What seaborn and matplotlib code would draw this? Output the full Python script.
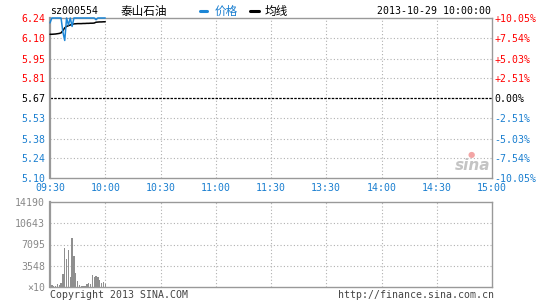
import matplotlib
matplotlib.use('Agg')
import matplotlib.pyplot as plt
import seaborn as sns
import pandas as pd
from matplotlib.lines import Line2D

# ---------------- data ----------------
minutes = list(range(31))  # 09:30 .. 10:00
price = [6.205, 6.24, 6.24, 6.24, 6.24, 6.24, 6.24, 6.14, 6.08, 6.24,
         6.19, 6.24, 6.18, 6.24, 6.24, 6.24, 6.24, 6.24, 6.24, 6.24,
         6.24, 6.24, 6.24, 6.24, 6.24, 6.228, 6.24, 6.24, 6.24, 6.24, 6.24]
avg_price = [6.124, 6.124, 6.125, 6.126, 6.128, 6.130, 6.134, 6.150, 6.170, 6.180,
             6.185, 6.190, 6.195, 6.198, 6.199, 6.200, 6.200, 6.200, 6.201, 6.201,
             6.202, 6.202, 6.203, 6.203, 6.204, 6.210, 6.211, 6.212, 6.212, 6.213, 6.213]
vol_minutes = list(range(1, 31))
volume = [400, 170, 170, 570, 400, 680, 2100, 6530, 4660, 6130,
          1590, 8240, 5230, 2390, 1020, 400, 170, 170, 170, 570,
          680, 500, 1990, 1700, 1870, 1700, 1250, 740, 850, 450]

time_ticks = [0, 30, 60, 90, 120, 150, 180, 210, 240]
time_labels = ['09:30', '10:00', '10:30', '11:00', '11:30', '13:30', '14:00', '14:30', '15:00']
price_ticks = [6.24, 6.10, 5.95, 5.81, 5.67, 5.53, 5.38, 5.24, 5.10]
price_labels = ['6.24', '6.10', '5.95', '5.81', '5.67', '5.53', '5.38', '5.24', '5.10']
pct_labels = ['+10.05%', '+7.54%', '+5.03%', '+2.51%', '0.00%', '-2.51%', '-5.03%', '-7.54%', '-10.05%']
vol_ticks = [0, 3548, 7095, 10643, 14190]
vol_labels = ['×10', '3548', '7095', '10643', '14190']
pre_close = 5.67

# ---------------- style ----------------
sns.set_theme(style='white')
plt.rcParams['font.family'] = ['DejaVu Sans Mono', 'Noto Sans CJK SC']

RED = '#ff0000'
BLUE = '#1a7fd0'
LINEBLUE = '#1c86d6'
GRAY = '#999999'
GRID = '#b0b0b0'
FS = 7.1

W, H = 545, 300
fig = plt.figure(figsize=(W / 100, H / 100), dpi=100)
fig.patch.set_facecolor('white')

def fx(px):
    return px / W

def fy(py):
    return 1 - py / H

L, R = 50, 492
ax1 = fig.add_axes([fx(L), fy(178), fx(R - L), (178 - 18) / H])
ax2 = fig.add_axes([fx(L), fy(287), fx(R - L), (287 - 202) / H])

df = pd.DataFrame({'minute': minutes, 'price': price, 'avg': avg_price})
dv = pd.DataFrame({'minute': vol_minutes, 'volume': volume})

# ---------------- price panel ----------------
ax1.set_facecolor('white')
for t in time_ticks[1:-1]:
    ax1.axvline(t, color=GRID, lw=0.8, ls=(0, (1, 2)), zorder=0)
for p in price_ticks[1:-1]:
    if abs(p - pre_close) > 1e-6:
        ax1.axhline(p, color=GRID, lw=0.8, ls=(0, (1, 2)), zorder=0)
ax1.axhline(pre_close, color='black', lw=0.9, ls=(0, (2, 1)), zorder=1)

sns.lineplot(data=df, x='minute', y='avg', color='black', lw=1.1, ax=ax1, zorder=3)
sns.lineplot(data=df, x='minute', y='price', color=LINEBLUE, lw=1.1, ax=ax1, zorder=4)
for ln in ax1.get_lines()[-2:]:
    ln.set_clip_on(False)

ax1.set_xlim(0, 240)
ax1.set_ylim(5.10, 6.24)
ax1.set_xticks(time_ticks)
ax1.set_xticklabels(time_labels)
ax1.set_yticks(price_ticks)
ax1.set_yticklabels(price_labels)
ax1.set_xlabel('')
ax1.set_ylabel('')
ax1.tick_params(axis='both', length=0, labelsize=FS)
ax1.tick_params(axis='y', pad=3.6)
ax1.tick_params(axis='x', pad=3.5, labelcolor=BLUE)
for lab, p in zip(ax1.get_yticklabels(), price_ticks):
    lab.set_color(RED if p > pre_close + 1e-6 else ('black' if abs(p - pre_close) < 1e-6 else BLUE))
for s in ax1.spines.values():
    s.set_color(GRAY)
    s.set_linewidth(1.0)
    s.set_zorder(2)
ax1.spines['left'].set_linewidth(1.6)

axr = ax1.twinx()
axr.set_ylim(5.10, 6.24)
axr.set_yticks(price_ticks)
axr.set_yticklabels(pct_labels)
axr.tick_params(axis='y', length=0, labelsize=FS, pad=1.5)
for lab, p in zip(axr.get_yticklabels(), price_ticks):
    lab.set_color(RED if p > pre_close + 1e-6 else ('black' if abs(p - pre_close) < 1e-6 else BLUE))
for s in axr.spines.values():
    s.set_visible(False)

# ---------------- volume panel ----------------
for t in time_ticks[1:-1]:
    ax2.axvline(t, color=GRID, lw=0.8, ls=(0, (1, 2)), zorder=0)
for v in vol_ticks[1:-1]:
    ax2.axhline(v, color=GRID, lw=0.8, ls=(0, (1, 2)), zorder=0)
sns.barplot(data=dv, x='minute', y='volume', native_scale=True, width=0.75,
            color='#8f8f8f', saturation=1, linewidth=0, errorbar=None, ax=ax2, zorder=2)
ax2.set_xlim(0, 240)
ax2.set_ylim(0, 14190)
ax2.set_xticks(time_ticks)
ax2.set_xticklabels([])
ax2.set_yticks(vol_ticks)
ax2.set_yticklabels(vol_labels)
ax2.set_xlabel('')
ax2.set_ylabel('')
ax2.tick_params(axis='both', length=0, labelsize=FS, labelcolor='#888888')
ax2.tick_params(axis='y', pad=3.6)
for s in ax2.spines.values():
    s.set_color(GRAY)
    s.set_linewidth(1.0)
ax2.spines['left'].set_linewidth(1.6)

# ---------------- header / footer texts ----------------
fig.text(fx(50), fy(11), 'sz000554', fontsize=FS, color='black', ha='left', va='center')
fig.text(fx(121), fy(11), '泰山石油', fontsize=8.4, color='black', ha='left', va='center',
         family=['Noto Sans CJK SC', 'DejaVu Sans'])
fig.add_artist(Line2D([fx(200), fx(207)], [fy(11), fy(11)], color=LINEBLUE, lw=2.2,
                      transform=fig.transFigure))
fig.text(fx(215), fy(11), '价格', fontsize=8.4, color=BLUE, ha='left', va='center',
         family=['Noto Sans CJK SC', 'DejaVu Sans'])
fig.add_artist(Line2D([fx(250), fx(259)], [fy(11), fy(11)], color='black', lw=2.2,
                      transform=fig.transFigure))
fig.text(fx(265), fy(11), '均线', fontsize=8.4, color='black', ha='left', va='center',
         family=['Noto Sans CJK SC', 'DejaVu Sans'])
fig.text(fx(491), fy(11), '2013-10-29 10:00:00', fontsize=FS, color='black', ha='right', va='center')

fig.text(fx(50), fy(295), 'Copyright 2013 SINA.COM', fontsize=FS, color='#444444', ha='left', va='center')
fig.text(fx(494), fy(295), 'http://finance.sina.com.cn', fontsize=FS, color='#444444', ha='right', va='center')

# watermark
fig.text(fx(473), fy(165), 'sina', fontsize=11, color='#c4c4c4', ha='center', va='center',
         fontstyle='italic', fontweight='bold', family=['DejaVu Sans'])
fig.text(fx(471), fy(154), '●', fontsize=6, color='#f3a5a5', ha='center', va='center',
         family=['DejaVu Sans'])

fig.savefig('out.png', dpi=100)
